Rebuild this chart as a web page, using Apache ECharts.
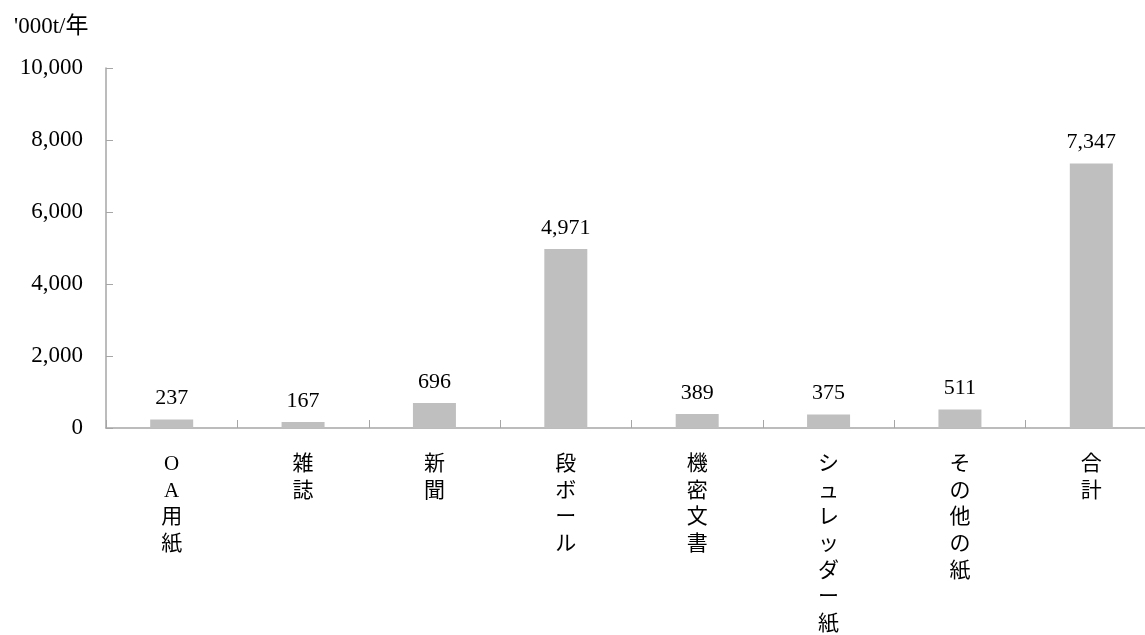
<!DOCTYPE html>
<html lang="ja">
<head>
<meta charset="utf-8">
<title>古紙の種類別発生量</title>
<script src="https://cdn.jsdelivr.net/npm/echarts@6/dist/echarts.min.js"></script>
<style>
  html, body { margin: 0; padding: 0; background: #ffffff; }
  #chart { width: 1145px; height: 635px; }
</style>
</head>
<body>
<div id="chart"></div>
<script>
// Categories of waste paper and annual amounts ('000 t / year)
const categories = ['OA用紙', '雑誌', '新聞', '段ボール', '機密文書', 'シュレッダー紙', 'その他の紙', '合計'];
const amounts = [237, 167, 696, 4971, 389, 375, 511, 7347];
const unitLabel = "'000t/年";
const yMin = 0;
const yMax = 10000;
const yStep = 2000;

const fontFamily = '"Liberation Serif", "Noto Sans CJK JP", serif';
const axisGray = '#a6a6a6';
const fmt = v => Number(v).toLocaleString('en-US');

const chart = echarts.init(document.getElementById('chart'), null, { renderer: 'canvas' });

chart.setOption({
  animation: false,
  backgroundColor: '#ffffff',
  textStyle: { fontFamily: fontFamily, color: '#000000' },
  graphic: [{
    type: 'text',
    left: 14,
    top: 15,
    style: { text: unitLabel, font: '23px ' + fontFamily, fill: '#000000' }
  }],
  grid: {
    left: 106, top: 68, width: 1051, height: 360,
    containLabel: false,
    outerBoundsMode: 'none'
  },
  xAxis: {
    type: 'category',
    data: categories,
    boundaryGap: true,
    axisLine: { show: true, lineStyle: { color: axisGray, width: 1.5 } },
    axisTick: { show: true, inside: true, length: 8, alignWithLabel: false, lineStyle: { color: axisGray } },
    axisLabel: {
      interval: 0,
      margin: 23,
      fontSize: 21,
      lineHeight: 26.7,
      color: '#000000',
      fontFamily: fontFamily,
      verticalAlign: 'top',
      formatter: v => v.split('').join('\n')
    },
    splitLine: { show: false }
  },
  yAxis: {
    type: 'value',
    min: yMin,
    max: yMax,
    interval: yStep,
    axisLine: { show: true, lineStyle: { color: axisGray, width: 1.5 } },
    axisTick: { show: true, inside: true, length: 7, lineStyle: { color: axisGray } },
    axisLabel: {
      margin: 23,
      fontSize: 23,
      color: '#000000',
      fontFamily: fontFamily,
      formatter: fmt
    },
    splitLine: { show: false }
  },
  series: [{
    type: 'bar',
    data: amounts,
    barWidth: 43,
    itemStyle: { color: '#bfbfbf' },
    label: {
      show: true,
      position: 'top',
      distance: 10,
      fontSize: 22,
      color: '#000000',
      fontFamily: fontFamily,
      formatter: p => fmt(p.value)
    }
  }]
});
</script>
</body>
</html>
